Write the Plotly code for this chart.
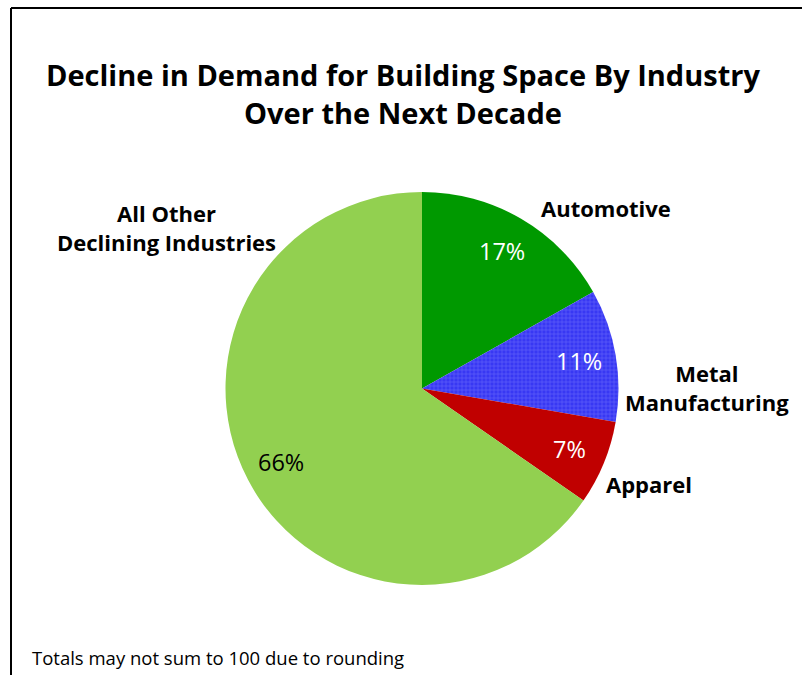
import math
import plotly.graph_objects as go

# Share of declining building-space demand, by industry
categories = ["Automotive", "Metal Manufacturing", "Apparel", "All Other Declining Industries"]
shares = [17, 11, 7, 66]
outside_labels = ["<b>Automotive</b>", "<b>Metal<br>Manufacturing</b>", "<b>Apparel</b>",
                  "<b>All Other<br>Declining Industries</b>"]
slice_colors = ["#009900", "#3838f3", "#c00000", "#92d050"]
pct_colors = ["white", "white", "white", "black"]

W, H = 802, 675
FONT = "Open Sans"

# pie geometry in pixels
cx, cy, R = 422, 388.5, 196.5


def px(x):
    return x / W


def py(y):
    return 1 - y / H


fig = go.Figure()
fig.add_trace(go.Pie(
    labels=categories,
    values=shares,
    sort=False,
    direction="clockwise",
    rotation=0,
    textinfo="none",
    hoverinfo="label+percent",
    marker=dict(
        colors=slice_colors,
        line=dict(width=0),
        pattern=dict(
            shape=["", "+", "", ""],
            size=4,
            solidity=0.2,
            fgcolor="#8a8aff",
            bgcolor=slice_colors,
            fgopacity=0.7,
        ),
    ),
    domain=dict(x=[px(cx - R), px(cx + R)], y=[py(cy + R), py(cy - R)]),
    showlegend=False,
))

annotations = []
# percentage labels at ~0.81 of the radius on each slice's mid-angle
total = sum(shares)
acc = 0
for v, col in zip(shares, pct_colors):
    mid = (acc + v / 2) / total * 2 * math.pi
    acc += v
    r = 0.81 * R
    x = cx + r * math.sin(mid)
    y = cy - r * math.cos(mid)
    annotations.append(dict(
        x=px(x), y=py(y), xref="paper", yref="paper",
        text=f"{v}%", showarrow=False,
        font=dict(family=FONT, size=23.5, color=col),
        xanchor="center", yanchor="middle",
    ))

# category names outside the pie
label_pos = [(606, 208), (707, 387), (649, 484), (166, 227)]
for (lx, ly), txt in zip(label_pos, outside_labels):
    annotations.append(dict(
        x=px(lx), y=py(ly), xref="paper", yref="paper",
        text=txt, showarrow=False, align="center",
        font=dict(family=FONT, size=22, color="black"),
        xanchor="center", yanchor="middle",
    ))

# title
annotations.append(dict(
    x=px(403), y=py(93), xref="paper", yref="paper",
    text="<b>Decline in Demand for Building Space By Industry<br>Over the Next Decade</b>",
    showarrow=False, align="center",
    font=dict(family=FONT, size=29, color="black"),
    xanchor="center", yanchor="middle",
))

# footnote
annotations.append(dict(
    x=px(30), y=py(657), xref="paper", yref="paper",
    text="Totals may not sum to 100 due to rounding", showarrow=False,
    font=dict(family=FONT, size=18.5, color="black"),
    xanchor="left", yanchor="middle",
))

# chart frame (top and left edges)
shapes = [
    dict(type="line", xref="paper", yref="paper", x0=px(11), x1=1.01, y0=py(8), y1=py(8),
         line=dict(color="black", width=2)),
    dict(type="line", xref="paper", yref="paper", x0=px(11), x1=px(11), y0=py(8), y1=-0.01,
         line=dict(color="black", width=2)),
]

fig.update_layout(
    width=W, height=H,
    margin=dict(l=0, r=0, t=0, b=0),
    paper_bgcolor="white",
    plot_bgcolor="white",
    annotations=annotations,
    shapes=shapes,
)

fig.write_html("out.html")
